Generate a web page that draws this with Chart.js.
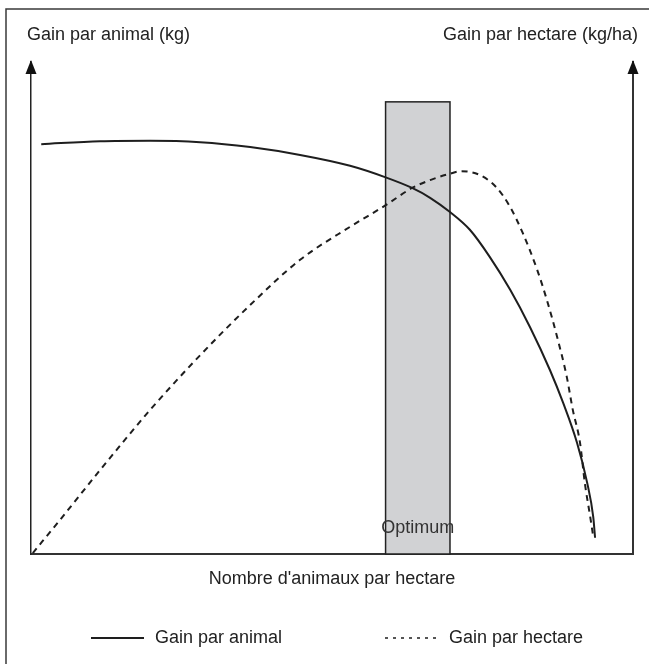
<!DOCTYPE html>
<html>
<head>
<meta charset="utf-8">
<script src="https://cdn.jsdelivr.net/npm/chart.js@4.4.1/dist/chart.umd.min.js"></script>
<style>
  html, body { margin: 0; padding: 0; background: #ffffff; }
  canvas { display: block; }
</style>
</head>
<body>
<canvas id="c" width="649" height="664"></canvas>
<script>
// ---- Data (x: stocking rate, arbitrary units 0-100; y: arbitrary units 0-100) ----
const animalX = [1.7, 11.5, 19.8, 28.1, 36.4, 44.7, 53.0, 58.8, 63.3, 66.3, 69.6, 72.9, 76.2, 79.6, 82.9, 86.2, 88.4, 90.7, 92.4, 93.4, 93.7];
const animalY = [83.3, 83.9, 84.0, 83.7, 82.7, 81.1, 78.9, 76.6, 74.4, 72.4, 69.5, 65.9, 60.4, 53.7, 46.1, 37.4, 30.7, 22.6, 14.4, 7.5, 3.3];

const hectareX = [0.3, 4.8, 11.5, 19.8, 28.1, 36.4, 44.7, 53.0, 58.8, 63.3, 66.3, 69.6, 71.5, 74.6, 77.4, 79.6, 81.7, 84.1, 85.7, 87.4, 89.0, 90.0, 91.2, 92.0, 92.9, 93.4];
const hectareY = [0.2, 6.9, 17.1, 29.3, 40.4, 50.6, 59.8, 66.5, 70.8, 74.4, 76.0, 77.3, 77.8, 77.0, 74.4, 70.5, 65.2, 57.7, 51.6, 44.1, 36.0, 29.3, 22.6, 14.4, 7.5, 3.5];

const optimumRange = [58.9, 69.6];   // x range of the optimum band
const optimumTop = 91.9;             // y value of the band top

const seriesLabels = ['Gain par animal', 'Gain par hectare'];
const leftTitle = 'Gain par animal (kg)';
const rightTitle = 'Gain par hectare (kg/ha)';
const xTitle = "Nombre d'animaux par hectare";
const optimumLabel = 'Optimum';

const toPts = (xs, ys) => xs.map((x, i) => ({ x: x, y: ys[i] }));

const FONT = '"Liberation Sans", Arial, Helvetica, sans-serif';
const INK = '#1e1e1e';

const decorPlugin = {
  id: 'decor',
  beforeDraw(chart) {
    const ctx = chart.ctx;
    ctx.save();
    ctx.fillStyle = '#ffffff';
    ctx.fillRect(0, 0, chart.width, chart.height);
    // outer frame (left and top)
    ctx.strokeStyle = '#3a3a3a';
    ctx.lineWidth = 1.5;
    ctx.beginPath();
    ctx.moveTo(6, chart.height);
    ctx.lineTo(6, 9);
    ctx.lineTo(chart.width, 9);
    ctx.stroke();
    ctx.restore();
  },
  beforeDatasetsDraw(chart) {
    const ctx = chart.ctx;
    const xs = chart.scales.x, ys = chart.scales.y;
    const x0 = xs.getPixelForValue(optimumRange[0]);
    const x1 = xs.getPixelForValue(optimumRange[1]);
    const yt = ys.getPixelForValue(optimumTop);
    const yb = ys.getPixelForValue(0);
    ctx.save();
    ctx.fillStyle = '#d1d2d4';
    ctx.fillRect(x0, yt, x1 - x0, yb - yt);
    ctx.strokeStyle = '#222222';
    ctx.lineWidth = 1.5;
    ctx.strokeRect(x0, yt, x1 - x0, yb - yt);
    ctx.restore();
  },
  afterDraw(chart) {
    const ctx = chart.ctx;
    const a = chart.chartArea;
    const xs = chart.scales.x;
    ctx.save();
    // arrow heads
    ctx.fillStyle = '#111';
    [a.left, a.right].forEach(px => {
      ctx.beginPath();
      ctx.moveTo(px, a.top - 2);
      ctx.lineTo(px - 5.5, a.top + 12);
      ctx.lineTo(px + 5.5, a.top + 12);
      ctx.closePath();
      ctx.fill();
    });
    // titles
    ctx.fillStyle = '#222';
    ctx.font = '18px ' + FONT;
    ctx.textBaseline = 'alphabetic';
    ctx.textAlign = 'left';
    ctx.fillText(leftTitle, 27, 40);
    ctx.textAlign = 'right';
    ctx.fillText(rightTitle, 638, 40);
    ctx.textAlign = 'center';
    ctx.fillText(xTitle, (a.left + a.right) / 2, 584);
    // optimum label
    const cx = (xs.getPixelForValue(optimumRange[0]) + xs.getPixelForValue(optimumRange[1])) / 2;
    ctx.fillStyle = '#333';
    ctx.fillText(optimumLabel, cx, 533);
    // legend
    const ly = 638;
    ctx.fillStyle = '#222';
    ctx.strokeStyle = INK;
    ctx.lineWidth = 1.8;
    ctx.beginPath();
    ctx.setLineDash([]);
    ctx.moveTo(91, ly);
    ctx.lineTo(144, ly);
    ctx.stroke();
    ctx.textAlign = 'left';
    ctx.textBaseline = 'middle';
    ctx.fillText(chart.data.datasets[0].label, 155, ly);
    ctx.beginPath();
    ctx.setLineDash([3, 5]);
    ctx.lineWidth = 1.5;
    ctx.moveTo(385, ly);
    ctx.lineTo(438, ly);
    ctx.stroke();
    ctx.setLineDash([]);
    ctx.fillText(chart.data.datasets[1].label, 449, ly);
    ctx.restore();
  }
};

new Chart(document.getElementById('c'), {
  type: 'scatter',
  data: {
    datasets: [
      {
        label: seriesLabels[0],
        data: toPts(animalX, animalY),
        showLine: true,
        borderColor: INK,
        borderWidth: 2,
        pointRadius: 0,
        cubicInterpolationMode: 'monotone',
        yAxisID: 'y'
      },
      {
        label: seriesLabels[1],
        data: toPts(hectareX, hectareY),
        showLine: true,
        borderColor: INK,
        borderWidth: 2,
        borderDash: [6, 5],
        pointRadius: 0,
        cubicInterpolationMode: 'monotone',
        yAxisID: 'y2'
      }
    ]
  },
  options: {
    responsive: false,
    animation: false,
    devicePixelRatio: 1,
    layout: { padding: { left: 31, right: 16, top: 62, bottom: 110 } },
    plugins: { legend: { display: false }, tooltip: { enabled: false } },
    scales: {
      x: {
        type: 'linear', min: 0, max: 100,
        grid: { display: false, drawTicks: false },
        ticks: { display: false },
        border: { display: true, color: '#333', width: 2 }
      },
      y: {
        position: 'left', min: 0, max: 100,
        grid: { display: false, drawTicks: false },
        ticks: { display: false },
        border: { display: true, color: '#222', width: 1.5 }
      },
      y2: {
        position: 'right', min: 0, max: 100,
        grid: { display: false, drawTicks: false },
        ticks: { display: false },
        border: { display: true, color: '#333', width: 2 }
      }
    }
  },
  plugins: [decorPlugin]
});
</script>
</body>
</html>
